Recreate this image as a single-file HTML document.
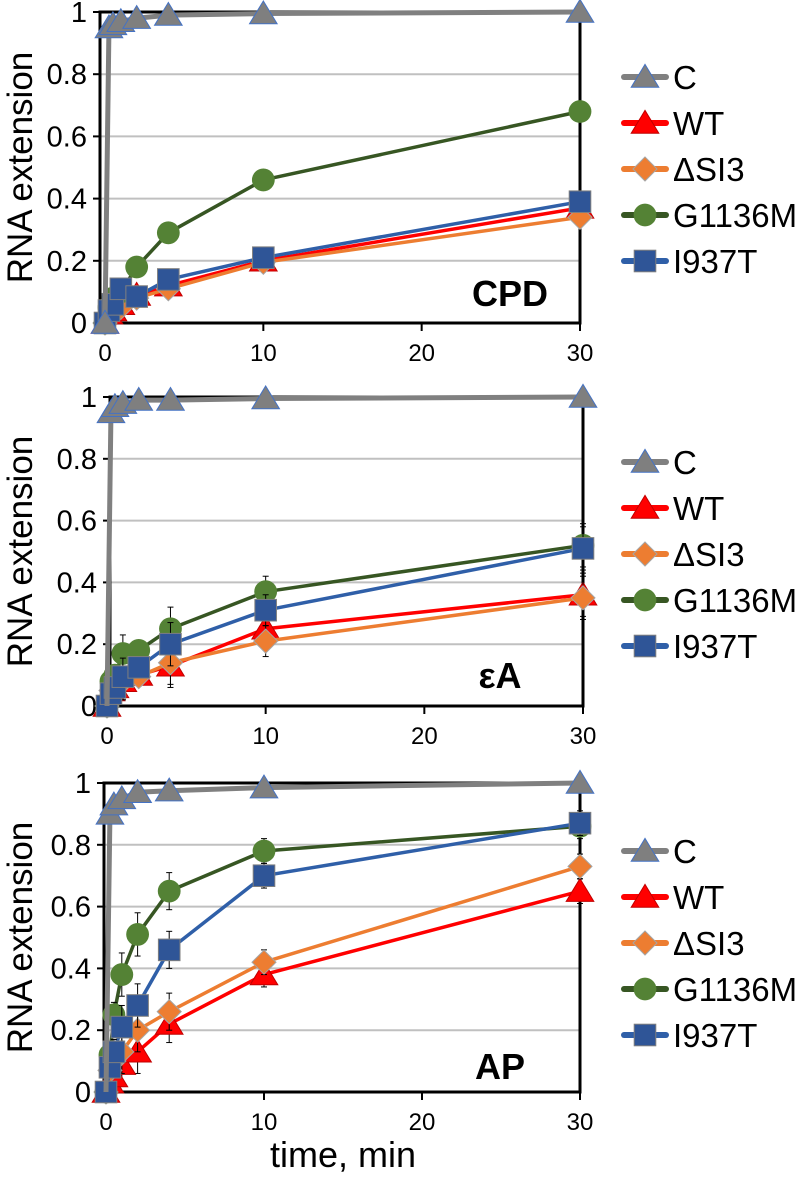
<!DOCTYPE html>
<html><head><meta charset="utf-8"><style>
body{margin:0;background:#fff;width:798px;height:1175px;overflow:hidden}
svg{font-family:"Liberation Sans",sans-serif}
</style></head><body>
<svg id="chart" width="798" height="1175" viewBox="0 0 798 1175" xmlns="http://www.w3.org/2000/svg"></svg>
<script>
const times=[0,0.25,0.5,1,2,4,10,30];
const seriesNames=["C","WT","\u0394SI3","G1136M","I937T"];
const xTicks=[0,10,20,30];
const yTicks=[0,0.2,0.4,0.6,0.8,1];
const panelTitles=["CPD","\u03B5A","AP"];
// panel 1 (CPD)
const p1C=[0,0.95,0.96,0.97,0.98,0.99,0.995,1];
const p1WT=[0,0.03,0.04,0.06,0.09,0.12,0.2,0.37];
const p1SI3=[0,0.03,0.04,0.05,0.08,0.11,0.195,0.34];
const p1G=[0,0.05,0.08,0.1,0.18,0.29,0.46,0.68];
const p1I=[0,0.04,0.06,0.11,0.085,0.14,0.21,0.39];
// panel 2 (eA)
const p2C=[0,0.95,0.97,0.98,0.99,0.99,0.995,1];
const p2WT=[0,0.05,0.06,0.08,0.1,0.13,0.25,0.36];
const p2SI3=[0,0.05,0.06,0.08,0.095,0.14,0.21,0.35];
const p2G=[0,0.08,0.1,0.17,0.18,0.25,0.37,0.52];
const p2I=[0,0.04,0.06,0.095,0.125,0.2,0.31,0.51];
const p2Err=[0,0,0.01,0.06,0.03,0.07,0.05,0.07];
// panel 3 (AP)
const p3C=[0,0.9,0.93,0.95,0.97,0.975,0.985,1];
const p3WT=[0,0.03,0.05,0.09,0.13,0.22,0.38,0.65];
const p3SI3=[0,0.07,0.1,0.13,0.2,0.26,0.42,0.73];
const p3G=[0,0.12,0.25,0.38,0.51,0.65,0.78,0.86];
const p3I=[0,0.08,0.13,0.21,0.28,0.46,0.7,0.87];
const p3Err=[0,0,0.04,0.07,0.07,0.06,0.04,0.04];

const NS="http://www.w3.org/2000/svg";
const svg=document.getElementById('chart');
function mk(tag,attrs,parent){const e=document.createElementNS(NS,tag);for(const k in attrs)e.setAttribute(k,attrs[k]);(parent||svg).appendChild(e);return e;}
const styles=[
 {line:"#808080",w:5,fill:"#7f7f7f",stroke:"#4472c4",shape:"tri"},
 {line:"#ff0000",w:3.5,fill:"#ff0000",stroke:"#c00000",shape:"tri"},
 {line:"#ed7d31",w:3.5,fill:"#ed7d31",stroke:"#a5a5a5",shape:"dia"},
 {line:"#375623",w:3.5,fill:"#548235",stroke:"#548235",shape:"circ"},
 {line:"#2f5fa8",w:3.5,fill:"#2f5597",stroke:"#7f7f7f",shape:"sq"}];
const panels=[
 {L:100,X0:105,R:580,Y0:323,Y1:12,data:[p1C,p1WT,p1SI3,p1G,p1I],err:null,tx:510,ty:306,leg:77},
 {L:110,X0:107,R:583,Y0:706,Y1:397,data:[p2C,p2WT,p2SI3,p2G,p2I],err:p2Err,tx:500,ty:688,leg:462},
 {L:104,X0:106,R:580,Y0:1092,Y1:783,data:[p3C,p3WT,p3SI3,p3G,p3I],err:p3Err,tx:500,ty:1079,leg:851}];
function marker(g,s,x,y,r){
 if(s.shape==="tri")mk('polygon',{points:`${x},${y-r*1.05} ${x-r*1.15},${y+r*0.85} ${x+r*1.15},${y+r*0.85}`,fill:s.fill,stroke:s.stroke,'stroke-width':1},g);
 else if(s.shape==="dia")mk('polygon',{points:`${x},${y-r} ${x+r},${y} ${x},${y+r} ${x-r},${y}`,fill:s.fill,stroke:s.stroke,'stroke-width':1},g);
 else if(s.shape==="circ")mk('circle',{cx:x,cy:y,r:r*0.95,fill:s.fill},g);
 else mk('rect',{x:x-r*0.9,y:y-r*0.9,width:r*1.8,height:r*1.8,fill:s.fill,stroke:s.stroke,'stroke-width':1},g);
}
panels.forEach((p,pi)=>{
 const sx=v=>p.X0+v*(p.R-p.X0)/30;
 const sy=v=>p.Y0-v*(p.Y0-p.Y1);
 const g=mk('g',{});
 
 
 yTicks.forEach(t=>{
  if(t>0&&t<1){const gl=mk('line',{x1:p.L,x2:p.R,y1:sy(t),y2:sy(t),stroke:"#c0c0c0",'stroke-width':2},g);
   }
  mk('line',{x1:p.L-7,x2:p.L,y1:sy(t),y2:sy(t),stroke:"#000",'stroke-width':2},g);
  const tl=mk('text',{x:p.L-13,y:sy(t)+10,'text-anchor':'end','font-size':29,fill:'#000'},g);
  tl.textContent=String(t);
  
 });
 mk('rect',{x:p.L,y:p.Y1,width:p.R-p.L,height:p.Y0-p.Y1,fill:'none',stroke:'#000','stroke-width':3},g);
 xTicks.forEach(t=>{
  mk('line',{x1:sx(t),x2:sx(t),y1:p.Y0,y2:p.Y0+8,stroke:"#000",'stroke-width':2},g);
  const tl=mk('text',{x:sx(t),y:p.Y0+38,'text-anchor':'middle','font-size':24,fill:'#000'},g);
  tl.textContent=String(t);
  
 });
 const yl=mk('text',{x:0,y:0,transform:`translate(32,${(p.Y0+p.Y1)/2}) rotate(-90)`,'text-anchor':'middle','font-size':35,fill:'#000'},g);
 yl.textContent="RNA extension";
 
 const tt=mk('text',{x:p.tx,y:p.ty,'text-anchor':'middle','font-size':36,'font-weight':'bold',fill:'#000'},g);
 tt.textContent=panelTitles[pi];
 
 const order=[1,2,3,4,0];
 order.forEach(si=>{
  const s=styles[si],d=p.data[si];
  const pts=times.map((t,i)=>sx(t)+','+sy(d[i])).join(' ');
  const ln=mk('polyline',{points:pts,fill:'none',stroke:s.line,'stroke-width':s.w,'stroke-linejoin':'round'},g);
  
  
  if(p.err&&si>0){times.forEach((t,i)=>{const e=p.err[i];if(e>0){
   mk('line',{x1:sx(t),x2:sx(t),y1:sy(d[i]-e),y2:sy(d[i]+e),stroke:'#000','stroke-width':1},g);
   mk('line',{x1:sx(t)-3,x2:sx(t)+3,y1:sy(d[i]+e),y2:sy(d[i]+e),stroke:'#000','stroke-width':1},g);
   mk('line',{x1:sx(t)-3,x2:sx(t)+3,y1:sy(d[i]-e),y2:sy(d[i]-e),stroke:'#000','stroke-width':1},g);}});}
  times.forEach((t,i)=>{if(si===0&&i===0&&pi!==0)return;marker(g,s,sx(t),sy(d[i]),12);});
 });
 seriesNames.forEach((n,si)=>{
  const s=styles[si],y=p.leg+si*46;
  const lg=mk('g',{},g);
  
  
  mk('line',{x1:624,x2:666,y1:y,y2:y,stroke:s.line,'stroke-width':6,'stroke-linecap':'round'},lg);
  marker(lg,s,645,y,12);
  const tx=mk('text',{x:673,y:y+12,'font-size':33,fill:'#000'},lg);
  tx.textContent=n;
 });
});
const xt=mk('text',{x:343,y:1167,'text-anchor':'middle','font-size':36,fill:'#000'});
xt.textContent="time, min";


</script>
</body></html>
